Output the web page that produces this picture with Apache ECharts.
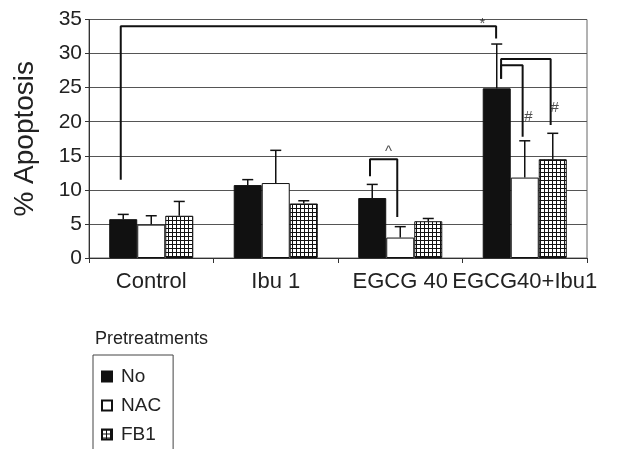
<!DOCTYPE html>
<html>
<head>
<meta charset="utf-8">
<script src="https://cdn.jsdelivr.net/npm/echarts@6/dist/echarts.min.js"></script>
<style>
html,body{margin:0;padding:0;background:#fff;}
#c{width:624px;height:449px;}
</style>
</head>
<body>
<div id="c"></div>
<script>
const categories = ['Control', 'Ibu 1', 'EGCG 40', 'EGCG40+Ibu1'];
const seriesNames = ['No', 'NAC', 'FB1'];
const noValues = [5.7, 10.7, 8.8, 24.9];
const nacValues = [4.9, 11.0, 3.0, 11.8];
const fb1Values = [6.2, 8.0, 5.4, 14.5];
const noErrTop = [6.4, 11.5, 10.8, 31.4];
const nacErrTop = [6.2, 15.8, 4.6, 17.2];
const fb1ErrTop = [8.3, 8.4, 5.8, 18.3];
const yTicks = [0, 5, 10, 15, 20, 25, 30, 35];
// significance brackets in (category-axis units 0..4, value) coordinates
const bracketStar = [[0.255, 11.5], [0.255, 34.0], [3.27, 34.0], [3.27, 32.2]];
const bracketCaret = [[2.257, 12.0], [2.257, 14.5], [2.476, 14.5], [2.476, 6.0]];
const bracketHash1 = [[3.31, 26.3], [3.31, 28.3], [3.483, 28.3], [3.483, 17.8]];
const bracketHash2 = [[3.31, 26.3], [3.31, 29.2], [3.708, 29.2], [3.708, 19.5]];
const marks = [[3.16, 34.3, '*'], [2.405, 15.6, '^'], [3.53, 20.7, '#'], [3.74, 22.0, '#']];

const FONT = '"Liberation Sans", Arial, sans-serif';
const BW = 0.225;

function makePattern() {
  const c = document.createElement('canvas');
  c.width = 4; c.height = 4;
  const g = c.getContext('2d');
  g.fillStyle = '#fff'; g.fillRect(0, 0, 4, 4);
  g.fillStyle = '#111';
  g.fillRect(0, 0, 4, 1);
  g.fillRect(0, 0, 1, 4);
  return c;
}
const pattern = { image: makePattern(), repeat: 'repeat' };

const chart = echarts.init(document.getElementById('c'), null, { renderer: 'canvas' });

function errSeries(vals, tops, k) {
  return {
    type: 'custom',
    xAxisIndex: 0, yAxisIndex: 0,
    silent: true,
    z: 5,
    data: vals.map((v, i) => [i, v, tops[i]]),
    renderItem: function (params, api) {
      const i = api.value(0);
      const w = api.size([1, 0])[0];
      const base = api.coord([i, api.value(1)]);
      const top = api.coord([i, api.value(2)]);
      const x = base[0] + (k - 1) * BW * w;
      const cap = 5.5;
      return {
        type: 'group',
        children: [
          { type: 'line', shape: { x1: x, y1: base[1], x2: x, y2: top[1] }, style: { stroke: '#111', lineWidth: 1.5 } },
          { type: 'line', shape: { x1: x - cap, y1: top[1], x2: x + cap, y2: top[1] }, style: { stroke: '#111', lineWidth: 1.5 } }
        ]
      };
    }
  };
}

function bracket(pts) {
  return {
    type: 'line', xAxisIndex: 1, yAxisIndex: 0,
    data: pts, symbol: 'none', silent: true, z: 6,
    lineStyle: { color: '#111', width: 2 }
  };
}

chart.setOption({
  animation: false,
  backgroundColor: '#fff',
  grid: { left: 89, right: 37, top: 19.5, bottom: 191, show: true, borderColor: '#666', borderWidth: 1,
    containLabel: false, outerBoundsMode: 'none' },
  title: {
    text: 'Pretreatments', left: 90, top: 325,
    textStyle: { fontFamily: FONT, fontSize: 18, fontWeight: 'normal', color: '#222' }
  },
  legend: {
    data: seriesNames, orient: 'vertical', left: 93, top: 355, height: 120,
    padding: [12, 12, 12, 8], itemGap: 10, itemWidth: 10, itemHeight: 10,
    borderColor: '#444', borderWidth: 1,
    icon: 'rect',
    textStyle: { fontFamily: FONT, fontSize: 19, color: '#222', padding: [0, 0, 0, 4] }
  },
  xAxis: [{
    type: 'category', data: categories,
    axisLine: { lineStyle: { color: '#333', width: 1 } },
    axisTick: { show: true, length: 5, lineStyle: { color: '#333' } },
    axisLabel: { fontFamily: FONT, fontSize: 22, color: '#222', margin: 13, interval: 0 },
    splitLine: { show: false }
  }, {
    type: 'value', min: 0, max: 4, show: false
  }],
  yAxis: {
    type: 'value', min: 0, max: 35, interval: 5,
    name: '% Apoptosis', nameLocation: 'middle', nameGap: 50,
    nameTextStyle: { fontFamily: FONT, fontSize: 28, color: '#222' },
    axisLine: { show: true, lineStyle: { color: '#333' } },
    axisTick: { show: true, length: 4, lineStyle: { color: '#333' } },
    axisLabel: { fontFamily: FONT, fontSize: 21, color: '#222', margin: 7,
      formatter: v => yTicks.indexOf(v) >= 0 ? String(v) : '' },
    splitLine: { lineStyle: { color: '#555', width: 1 } }
  },
  series: [
    { name: 'No', type: 'bar', data: noValues, barWidth: '22.5%', barGap: '0%',
      itemStyle: { color: '#111', borderColor: '#111', borderWidth: 1 } },
    { name: 'NAC', type: 'bar', data: nacValues, barWidth: '22.5%', barGap: '0%',
      itemStyle: { color: '#fff', borderColor: '#111', borderWidth: 1 } },
    { name: 'FB1', type: 'bar', data: fb1Values, barWidth: '22.5%', barGap: '0%',
      itemStyle: { color: pattern, borderColor: '#111', borderWidth: 1 } },
    errSeries(noValues, noErrTop, 0),
    errSeries(nacValues, nacErrTop, 1),
    errSeries(fb1Values, fb1ErrTop, 2),
    bracket(bracketStar),
    bracket(bracketCaret),
    bracket(bracketHash1),
    bracket(bracketHash2),
    {
      type: 'scatter', xAxisIndex: 1, yAxisIndex: 0, symbolSize: 1, silent: true, z: 7,
      itemStyle: { color: 'rgba(0,0,0,0)' },
      data: marks.map(m => ({ value: [m[0], m[1]], label: { formatter: m[2] } })),
      label: { show: true, position: 'inside', fontFamily: FONT, fontSize: 15, color: '#222' }
    }
  ]
});
</script>
</body>
</html>
